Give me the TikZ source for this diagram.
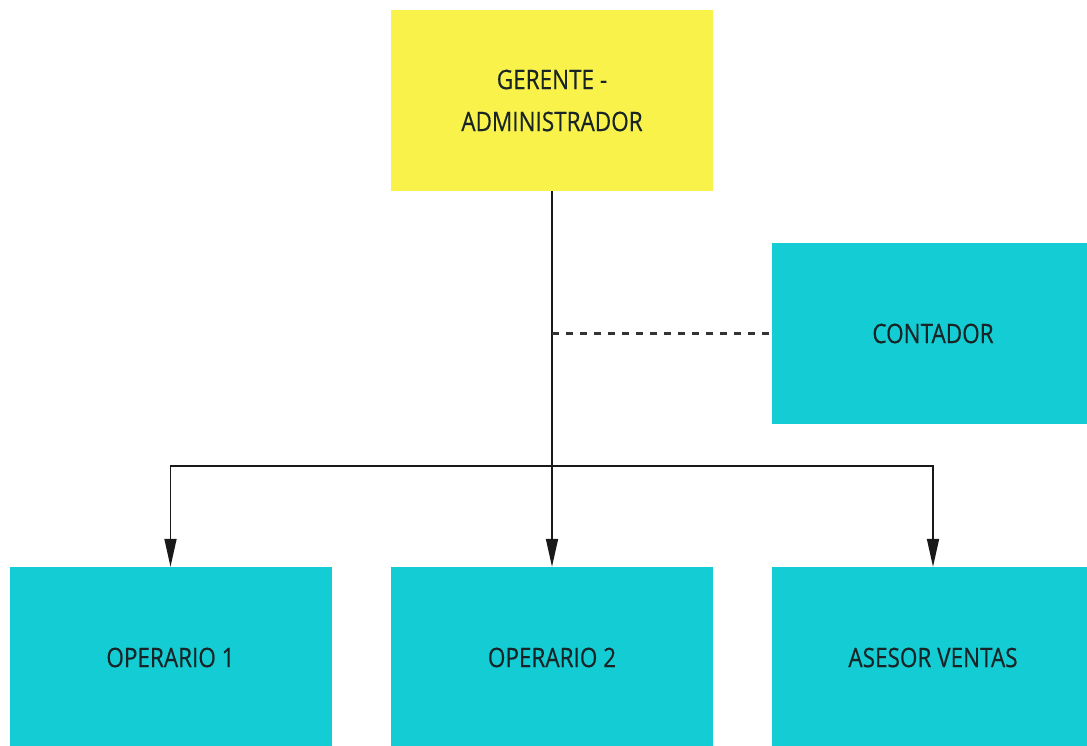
\documentclass[tikz,border=0pt]{standalone}
\usepackage{fontspec}
\setmainfont{Open Sans}[FakeStretch=0.84,FakeBold=0.4]
\usetikzlibrary{arrows.meta}
\definecolor{boxyellow}{RGB}{249,242,74}
\definecolor{boxcyan}{RGB}{20,205,212}
\definecolor{labelink}{RGB}{24,36,38}
\tikzset{
  unit/.style={minimum width=322pt, minimum height=181pt, inner sep=0pt,
    align=center, text=labelink,
    font=\fontsize{26.8pt}{42pt}\selectfont},
  headbox/.style={unit, fill=boxyellow},
  staffbox/.style={unit, fill=boxcyan},
  link/.style={line width=1.7pt, black!90},
  linkarrow/.style={link, -{Triangle[length=28pt,width=12pt]}},
  advisory/.style={line width=2.2pt, black!80, dash pattern=on 7pt off 7pt},
}
\begin{document}
\begin{tikzpicture}[x=1pt,y=-1pt]
  \useasboundingbox (0,0) rectangle (1087,745);
  \clip (0,0) rectangle (1087,745);
  \fill[white] (0,0) rectangle (1087,745);

  % boxes
  \node[headbox]  (ger) at (552,100.5) {GERENTE -\\ADMINISTRADOR};
  \node[staffbox] (con) at (933,333.5) {CONTADOR};
  \node[staffbox] (op1) at (170.5,657.5) {OPERARIO 1};
  \node[staffbox] (op2) at (552,657.5) {OPERARIO 2};
  \node[staffbox] (ase) at (933,657.5) {ASESOR VENTAS};

  % branching points on the main trunk
  \coordinate (split) at (ger.south |- 0,466);
  \coordinate (adv) at (ger.south |- con.west);

  % connectors
  \draw[linkarrow] (ger.south) -- (op2.north);
  \draw[linkarrow] (split) -| (op1.north);
  \draw[linkarrow] (split) -| (ase.north);
  \draw[advisory] (adv) -- (con.west);
\end{tikzpicture}
\end{document}
